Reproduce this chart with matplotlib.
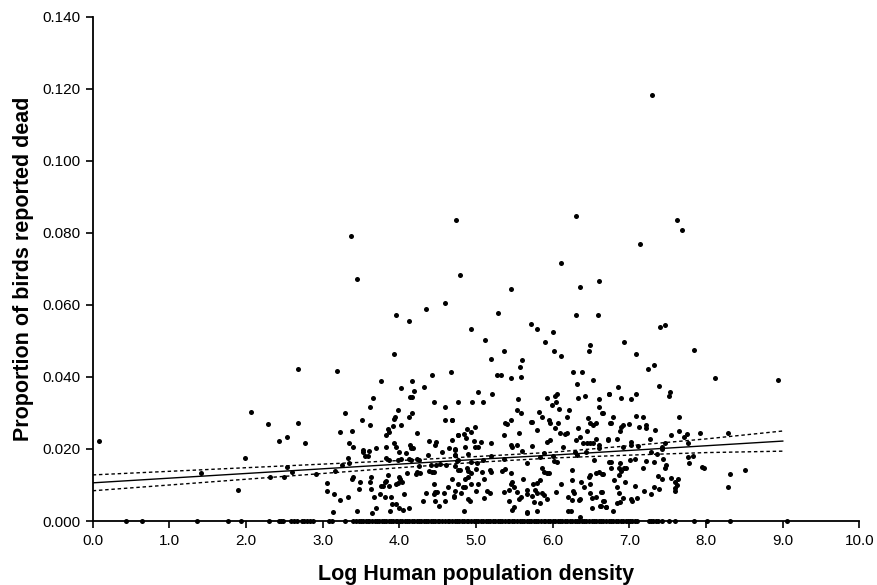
import matplotlib
matplotlib.use("Agg")
import matplotlib.pyplot as plt
from matplotlib.ticker import MultipleLocator, FormatStrFormatter

plt.rcParams['font.family'] = ['Liberation Sans', 'DejaVu Sans']

# points above zero (x = log density, y = proportion dead)
nonzero = [
    # x < 3
    (0.08, 0.0223), (1.41, 0.0133), (1.89, 0.0086), (1.99, 0.0174), (2.07, 0.0304),
    (2.28, 0.0269), (2.31, 0.0121), (2.43, 0.0223), (2.50, 0.0121), (2.54, 0.0233),
    (2.54, 0.0149), (2.60, 0.0136), (2.68, 0.0421), (2.68, 0.0272), (2.77, 0.0218),
    (2.91, 0.0130),
    # outliers
    (3.37, 0.0792), (3.45, 0.0672), (4.74, 0.0835), (4.79, 0.0683), (6.30, 0.0846),
    (6.11, 0.0716), (7.29, 0.1183), (7.62, 0.0835), (7.68, 0.0808), (7.14, 0.0770),
    (8.94, 0.0392), (8.51, 0.0142),
    # 3 - 4.8
    (4.59, 0.0606), (4.35, 0.0588), (3.95, 0.0572), (4.13, 0.0556), (3.93, 0.0463),
    (3.18, 0.0417), (4.67, 0.0414), (3.76, 0.0390), (4.43, 0.0406), (4.16, 0.0390),
    (4.02, 0.0370), (4.32, 0.0373), (4.19, 0.0362), (4.14, 0.0345), (4.16, 0.0345),
    (3.65, 0.0341), (3.62, 0.0318), (4.45, 0.0330), (4.60, 0.0318), (3.29, 0.0299),
    (3.98, 0.0307), (3.94, 0.0290), (3.93, 0.0283), (4.16, 0.0299), (4.12, 0.0289),
    (3.51, 0.0281), (3.62, 0.0267), (3.92, 0.0265), (4.02, 0.0267), (4.59, 0.0281),
    (4.69, 0.0281), (3.85, 0.0256), (3.87, 0.0246), (3.82, 0.0240), (4.23, 0.0245),
    (3.23, 0.0247), (3.38, 0.0251), (4.77, 0.0240), (3.34, 0.0216), (3.39, 0.0205),
    (3.83, 0.0205), (3.96, 0.0206), (3.93, 0.0218), (3.69, 0.0202), (3.53, 0.0197),
    (3.52, 0.0193), (3.60, 0.0195), (3.55, 0.0181), (3.59, 0.0181), (3.99, 0.0193),
    (4.14, 0.0211), (4.15, 0.0202), (4.18, 0.0202), (4.09, 0.0188), (4.13, 0.0173),
    (4.15, 0.0169), (4.23, 0.0171), (4.26, 0.0169), (4.38, 0.0221), (4.48, 0.0219),
    (4.47, 0.0212), (4.37, 0.0183), (4.56, 0.0191), (4.65, 0.0202), (4.72, 0.0197),
    (4.72, 0.0182), (4.77, 0.0169), (3.33, 0.0176), (3.34, 0.0160), (3.25, 0.0156),
    (3.82, 0.0175), (3.86, 0.0169), (3.98, 0.0169), (4.02, 0.0172), (4.48, 0.0156),
    (4.53, 0.0158), (4.41, 0.0156), (4.38, 0.0140), (4.42, 0.0135), (4.45, 0.0137),
    (4.61, 0.0156), (4.25, 0.0154), (4.27, 0.0132), (4.23, 0.0137), (4.21, 0.0131),
    (3.16, 0.0140), (3.40, 0.0123), (3.38, 0.0118), (3.63, 0.0123), (3.62, 0.0107),
    (3.85, 0.0127), (3.83, 0.0111), (3.81, 0.0109), (3.99, 0.0123), (4.01, 0.0118),
    (3.98, 0.0105), (4.03, 0.0109), (4.10, 0.0132), (3.76, 0.0098), (3.78, 0.0098),
    (3.86, 0.0098), (3.49, 0.0107), (3.05, 0.0105), (3.06, 0.0084), (3.47, 0.0088),
    (3.15, 0.0074), (3.23, 0.0057), (3.33, 0.0066), (3.67, 0.0067), (3.75, 0.0074),
    (3.81, 0.0067), (3.89, 0.0067), (4.06, 0.0074), (3.63, 0.0088), (3.96, 0.0103),
    (4.46, 0.0080), (4.49, 0.0080), (4.45, 0.0074), (4.35, 0.0077), (4.58, 0.0077),
    (4.63, 0.0094), (4.71, 0.0069), (4.45, 0.0104), (4.31, 0.0055), (4.47, 0.0055),
    (4.52, 0.0041), (4.59, 0.0055), (3.90, 0.0046), (3.96, 0.0046), (3.99, 0.0036),
    (4.05, 0.0030), (4.13, 0.0037), (3.69, 0.0037), (3.64, 0.0023), (3.88, 0.0028),
    (3.45, 0.0028), (3.14, 0.0026),
    # 4.7 - 6.7
    (5.46, 0.0644), (6.35, 0.0651), (6.60, 0.0667), (5.29, 0.0577), (6.30, 0.0571),
    (6.59, 0.0571), (4.94, 0.0533), (5.72, 0.0547), (5.80, 0.0532), (6.00, 0.0525),
    (5.12, 0.0503), (5.90, 0.0497), (6.49, 0.0489), (6.47, 0.0473), (5.36, 0.0473),
    (6.01, 0.0473), (6.11, 0.0459), (5.19, 0.0451), (5.60, 0.0446), (5.57, 0.0427),
    (5.59, 0.0400), (5.27, 0.0405), (5.33, 0.0405), (5.45, 0.0397), (6.27, 0.0414),
    (6.38, 0.0414), (6.32, 0.0381), (6.53, 0.0392), (5.03, 0.0358), (5.21, 0.0353),
    (5.93, 0.0343), (6.05, 0.0354), (6.03, 0.0347), (5.55, 0.0339), (6.33, 0.0341),
    (6.42, 0.0346), (6.74, 0.0353), (4.77, 0.0330), (4.95, 0.0330), (5.09, 0.0330),
    (6.60, 0.0338), (6.60, 0.0318), (5.99, 0.0321), (6.04, 0.0330), (6.08, 0.0311),
    (6.21, 0.0308), (5.53, 0.0308), (5.58, 0.0299), (5.82, 0.0302), (5.86, 0.0290),
    (6.64, 0.0299), (6.19, 0.0289), (6.46, 0.0286), (4.69, 0.0281), (5.45, 0.0281),
    (5.38, 0.0271), (5.40, 0.0270), (5.72, 0.0276), (5.73, 0.0276), (5.95, 0.0281),
    (5.97, 0.0271), (6.07, 0.0271), (6.49, 0.0273), (6.53, 0.0268), (6.56, 0.0271),
    (6.75, 0.0271), (4.99, 0.0262), (4.88, 0.0256), (5.56, 0.0245), (5.79, 0.0253),
    (6.03, 0.0258), (6.33, 0.0259), (6.45, 0.0251), (4.76, 0.0238), (4.84, 0.0242),
    (4.94, 0.0247), (5.36, 0.0240), (6.10, 0.0245), (6.16, 0.0242), (6.19, 0.0245),
    (4.68, 0.0225), (4.87, 0.0230), (4.97, 0.0222), (5.06, 0.0219), (5.19, 0.0218),
    (5.93, 0.0219), (5.97, 0.0225), (6.30, 0.0224), (6.36, 0.0234), (6.40, 0.0218),
    (6.45, 0.0218), (6.49, 0.0218), (6.52, 0.0216), (6.56, 0.0228), (6.60, 0.0211),
    (6.60, 0.0203), (6.72, 0.0225), (5.45, 0.0210), (5.47, 0.0206), (5.53, 0.0212),
    (5.73, 0.0209), (6.13, 0.0206), (4.72, 0.0199), (4.86, 0.0206), (4.89, 0.0185),
    (4.99, 0.0206), (5.02, 0.0206), (5.60, 0.0194), (6.29, 0.0193), (6.32, 0.0183),
    (6.43, 0.0193), (4.73, 0.0183), (5.19, 0.0181), (5.37, 0.0171), (5.88, 0.0188),
    (5.84, 0.0179), (6.00, 0.0181), (4.75, 0.0167), (4.93, 0.0165), (5.01, 0.0160),
    (5.09, 0.0169), (5.67, 0.0162), (6.01, 0.0167), (6.05, 0.0165), (6.54, 0.0169),
    (6.73, 0.0165), (4.73, 0.0153), (4.79, 0.0142), (4.76, 0.0142), (4.88, 0.0147),
    (4.90, 0.0140), (4.93, 0.0133), (4.90, 0.0123), (5.00, 0.0145), (5.08, 0.0137),
    (5.18, 0.0142), (5.20, 0.0137), (5.34, 0.0140), (5.38, 0.0145), (5.45, 0.0133),
    (5.86, 0.0147), (5.88, 0.0137), (5.92, 0.0134), (5.95, 0.0133), (6.25, 0.0143),
    (6.48, 0.0128), (6.47, 0.0123), (6.56, 0.0134), (6.60, 0.0137), (4.69, 0.0118),
    (4.77, 0.0104), (4.86, 0.0116), (4.85, 0.0095), (4.94, 0.0104), (5.03, 0.0103),
    (5.10, 0.0117), (5.47, 0.0108), (5.49, 0.0095), (5.46, 0.0103), (5.61, 0.0117),
    (5.74, 0.0103), (5.80, 0.0106), (5.83, 0.0114), (6.11, 0.0104), (6.25, 0.0114),
    (6.37, 0.0109), (6.41, 0.0095), (6.48, 0.0104), (6.64, 0.0131), (4.83, 0.0095),
    (4.72, 0.0083), (4.80, 0.0077), (5.00, 0.0084), (4.89, 0.0061), (4.92, 0.0056),
    (5.14, 0.0084), (5.18, 0.0077), (5.37, 0.0080), (5.43, 0.0086), (5.53, 0.0080),
    (5.58, 0.0068), (5.56, 0.0061), (5.66, 0.0086), (5.67, 0.0075), (5.77, 0.0086),
    (5.80, 0.0077), (5.86, 0.0077), (5.89, 0.0072), (6.04, 0.0080), (6.27, 0.0084),
    (6.28, 0.0077), (6.49, 0.0077), (6.56, 0.0068), (6.64, 0.0080), (4.71, 0.0068),
    (5.10, 0.0065), (5.43, 0.0056), (5.73, 0.0069), (5.76, 0.0054), (5.93, 0.0062),
    (6.20, 0.0066), (6.25, 0.0058), (6.34, 0.0058), (6.36, 0.0061), (6.51, 0.0063),
    (6.67, 0.0056), (4.84, 0.0029), (5.49, 0.0040), (5.47, 0.0030), (5.67, 0.0023),
    (5.80, 0.0029), (5.83, 0.0049), (6.24, 0.0029), (6.36, 0.0012), (6.51, 0.0035),
    (6.62, 0.0042), (6.70, 0.0038), (5.66, 0.0024), (6.20, 0.0028),
    # 6.6 - 8.5
    (7.40, 0.0540), (7.46, 0.0545), (6.93, 0.0498), (7.08, 0.0463), (7.84, 0.0476),
    (7.24, 0.0421), (7.32, 0.0432), (8.12, 0.0397), (6.85, 0.0373), (7.38, 0.0376),
    (7.53, 0.0359), (7.51, 0.0348), (6.74, 0.0353), (6.89, 0.0341), (7.09, 0.0353),
    (7.02, 0.0338), (6.65, 0.0299), (6.78, 0.0290), (6.76, 0.0273), (7.08, 0.0292),
    (7.18, 0.0289), (7.65, 0.0289), (6.91, 0.0268), (6.89, 0.0260), (6.88, 0.0251),
    (6.99, 0.0269), (7.22, 0.0266), (7.21, 0.0257), (7.13, 0.0260), (7.33, 0.0253),
    (7.65, 0.0251), (7.54, 0.0239), (7.75, 0.0242), (7.71, 0.0234), (7.92, 0.0245),
    (8.28, 0.0245), (6.72, 0.0227), (6.84, 0.0229), (7.27, 0.0229), (7.02, 0.0220),
    (7.02, 0.0211), (6.91, 0.0205), (7.11, 0.0208), (7.47, 0.0218), (7.43, 0.0206),
    (7.42, 0.0201), (7.76, 0.0218), (7.28, 0.0191), (7.36, 0.0186), (7.07, 0.0171),
    (7.01, 0.0169), (6.76, 0.0165), (6.88, 0.0160), (7.32, 0.0163), (7.21, 0.0167),
    (7.44, 0.0172), (7.76, 0.0179), (7.78, 0.0160), (7.83, 0.0180), (6.65, 0.0131),
    (6.76, 0.0147), (6.87, 0.0147), (6.93, 0.0147), (6.89, 0.0140), (6.86, 0.0128),
    (6.95, 0.0148), (7.18, 0.0147), (7.48, 0.0155), (7.46, 0.0147), (7.95, 0.0149),
    (7.97, 0.0147), (8.31, 0.0131), (6.80, 0.0114), (6.94, 0.0109), (7.37, 0.0125),
    (7.43, 0.0118), (7.54, 0.0120), (7.60, 0.0109), (7.63, 0.0116), (7.62, 0.0100),
    (7.60, 0.0091), (7.60, 0.0082), (8.28, 0.0095), (6.63, 0.0080), (6.84, 0.0095),
    (6.86, 0.0077), (7.07, 0.0098), (7.19, 0.0082), (7.32, 0.0095), (7.38, 0.0088),
    (7.28, 0.0074), (6.66, 0.0056), (6.63, 0.0042), (6.70, 0.0038), (6.79, 0.0029),
    (6.84, 0.0051), (6.88, 0.0053), (6.92, 0.0065), (7.02, 0.0060), (7.04, 0.0056),
    (7.10, 0.0063),
]

# points sitting on zero
zero_x = [
    0.43, 0.64, 1.36, 1.77, 1.93, 2.30, 2.43, 2.45, 2.48, 2.59, 2.62, 2.67,
    2.73, 2.76, 2.79, 2.83, 2.87, 3.08, 3.12, 3.29,
    3.40, 3.43, 3.47, 3.50, 3.52, 3.56, 3.59, 3.61, 3.64, 3.68, 3.71, 3.73, 3.77,
    3.80, 3.82, 3.86, 3.89, 3.92, 3.95, 3.97, 4.01, 4.04, 4.07, 4.10, 4.12, 4.16,
    4.19, 4.23, 4.25, 4.28, 4.32, 4.35, 4.37, 4.41, 4.44, 4.47, 4.50, 4.52, 4.56,
    4.59, 4.63, 4.65, 4.68, 4.72, 4.75, 4.78, 4.81, 4.84, 4.88, 4.90, 4.93, 4.97,
    5.00, 5.03, 5.06, 5.09, 5.13, 5.16, 5.18, 5.22, 5.25, 5.28, 5.31, 5.34, 5.38,
    5.41, 5.43, 5.47, 5.50, 5.53, 5.57, 5.60, 5.62, 5.66, 5.69, 5.72, 5.75, 5.78,
    5.81, 5.85, 5.88, 5.90, 5.94, 5.97, 6.00, 6.03, 6.07, 6.10, 6.12, 6.16, 6.19,
    6.22, 6.25, 6.29, 6.32, 6.34, 6.38, 6.41, 6.44, 6.47, 6.51, 6.54, 6.56, 6.60,
    6.63, 6.66, 6.69, 6.73, 6.76, 6.79, 6.82, 6.85, 6.89, 6.92, 6.95, 6.98, 7.01,
    7.04, 7.07, 7.10, 7.25, 7.28, 7.31, 7.35, 7.37, 7.42, 7.51, 7.60, 7.84, 8.01,
    8.31, 9.06,
]

# regression line and its confidence band, read at whole x values
fit_x = [0, 1, 2, 3, 4, 5, 6, 7, 8, 9]
fit_y = [0.0106, 0.0119, 0.0132, 0.0145, 0.0158, 0.0171, 0.0183, 0.0196, 0.0209, 0.0222]
ci_up = [0.0128, 0.0138, 0.0148, 0.0158, 0.0168, 0.0179, 0.0191, 0.0209, 0.0228, 0.0250]
ci_lo = [0.0084, 0.0100, 0.0116, 0.0132, 0.0148, 0.0163, 0.0175, 0.0183, 0.0190, 0.0194]

px = [p[0] for p in nonzero] + zero_x
py = [p[1] for p in nonzero] + [0.0] * len(zero_x)

fig = plt.figure(figsize=(8.77, 5.85), dpi=100)
ax = fig.add_axes([0.1057, 0.1094, 0.8743, 0.8616])

ax.scatter(px, py, s=13, c='black', linewidths=0, zorder=3, clip_on=False)
ax.plot(fit_x, fit_y, color='black', lw=1.0, zorder=4)
ax.plot(fit_x, ci_up, color='black', lw=1.0, ls=(0, (2.5, 2)), zorder=4)
ax.plot(fit_x, ci_lo, color='black', lw=1.0, ls=(0, (2.5, 2)), zorder=4)

ax.set_xlim(0, 10)
ax.set_ylim(0, 0.14)
ax.xaxis.set_major_locator(MultipleLocator(1.0))
ax.yaxis.set_major_locator(MultipleLocator(0.02))
ax.xaxis.set_major_formatter(FormatStrFormatter('%.1f'))
ax.yaxis.set_major_formatter(FormatStrFormatter('%.3f'))

for side in ['top', 'right']:
    ax.spines[side].set_visible(False)
for side in ['left', 'bottom']:
    ax.spines[side].set_linewidth(1.3)
ax.tick_params(direction='out', length=5, width=1.2, labelsize=11, pad=4)

ax.set_xlabel('Log Human population density', fontsize=15.5, fontweight='bold', labelpad=12)
ax.set_ylabel('Proportion of birds reported dead', fontsize=15.5, fontweight='bold', labelpad=6)

fig.savefig('out.png', dpi=100)
